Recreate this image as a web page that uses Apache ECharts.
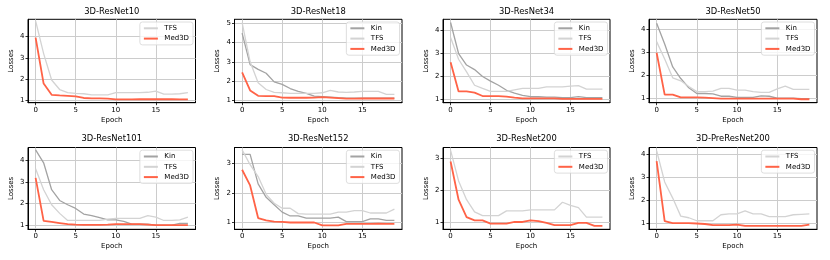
<!DOCTYPE html>
<html><head><meta charset="utf-8">
<script src="https://cdn.jsdelivr.net/npm/echarts@6/dist/echarts.min.js"></script>
<style>html,body{margin:0;padding:0;background:#fff}#c{width:830px;height:260px}</style>
</head><body><div id="c"></div>
<script>
const epochs = [0,1,2,3,4,5,6,7,8,9,10,11,12,13,14,15,16,17,18,19];
const xTicks = [0,5,10,15];
const titles = ['3D-ResNet10','3D-ResNet18','3D-ResNet34','3D-ResNet50','3D-ResNet101','3D-ResNet152','3D-ResNet200','3D-PreResNet200'];

const r10_tfs = [4.75,3.2,1.95,1.5,1.35,1.32,1.3,1.25,1.25,1.25,1.35,1.35,1.35,1.35,1.37,1.42,1.28,1.28,1.3,1.35];
const r10_med = [3.95,1.78,1.25,1.22,1.2,1.18,1.1,1.08,1.08,1.07,1.03,1.03,1.03,1.04,1.04,1.04,1.04,1.04,1.03,1.03];

const r18_kin = [4.5,2.85,2.6,2.4,1.95,1.82,1.6,1.45,1.35,1.2,1.18,1.15,1.12,1.1,1.1,1.1,1.1,1.1,1.1,1.1];
const r18_tfs = [5.05,3.0,1.9,1.55,1.4,1.38,1.35,1.35,1.35,1.35,1.38,1.5,1.42,1.4,1.42,1.45,1.45,1.45,1.3,1.3];
const r18_med = [2.45,1.5,1.22,1.2,1.2,1.13,1.12,1.12,1.12,1.13,1.15,1.13,1.1,1.07,1.07,1.08,1.08,1.08,1.08,1.08];

const r34_kin = [4.35,3.0,2.5,2.3,2.0,1.8,1.62,1.4,1.28,1.18,1.12,1.12,1.1,1.1,1.08,1.08,1.12,1.08,1.08,1.08];
const r34_tfs = [3.7,2.75,2.2,1.62,1.48,1.35,1.35,1.35,1.42,1.48,1.48,1.48,1.55,1.55,1.55,1.58,1.6,1.45,1.45,1.45];
const r34_med = [2.62,1.35,1.35,1.3,1.15,1.15,1.15,1.12,1.08,1.05,1.05,1.05,1.05,1.05,1.03,1.03,1.03,1.03,1.03,1.03];

const r50_kin = [4.25,3.35,2.35,1.85,1.45,1.2,1.2,1.18,1.08,1.08,1.03,1.03,1.03,1.1,1.08,1.0,1.0,1.0,0.98,0.98];
const r50_tfs = [3.45,2.7,1.88,1.75,1.5,1.28,1.28,1.3,1.42,1.42,1.35,1.35,1.28,1.25,1.25,1.4,1.52,1.38,1.38,1.38];
const r50_med = [2.97,1.15,1.15,1.03,1.03,1.03,1.02,1.0,0.98,0.98,0.98,0.98,0.98,0.98,0.98,0.98,0.98,0.98,0.95,0.95];

const r101_kin = [4.5,3.9,2.65,2.15,1.95,1.78,1.52,1.45,1.35,1.25,1.25,1.18,1.05,1.05,1.05,1.0,1.0,1.0,1.08,1.08];
const r101_tfs = [3.62,2.65,1.95,1.55,1.22,1.22,1.22,1.22,1.22,1.28,1.32,1.32,1.32,1.32,1.45,1.38,1.22,1.22,1.25,1.38];
const r101_med = [3.2,1.2,1.15,1.1,1.05,1.03,1.02,1.02,1.02,1.03,1.05,1.05,1.05,1.05,1.03,1.0,1.0,1.0,1.0,1.0];

const r152_kin = [3.3,3.3,2.3,1.85,1.6,1.35,1.22,1.22,1.15,1.15,1.15,1.15,1.18,1.03,1.03,1.03,1.12,1.12,1.07,1.07];
const r152_tfs = [3.45,2.95,2.55,1.95,1.65,1.48,1.48,1.3,1.28,1.28,1.28,1.28,1.35,1.35,1.4,1.4,1.32,1.32,1.32,1.45];
const r152_med = [2.78,2.25,1.15,1.07,1.03,1.02,1.0,1.0,1.0,1.0,0.9,0.9,0.9,0.95,0.95,0.95,0.95,0.96,0.95,0.95];

const r200_tfs = [3.25,2.29,1.7,1.32,1.2,1.2,1.2,1.35,1.35,1.35,1.38,1.38,1.38,1.38,1.62,1.52,1.45,1.15,1.15,1.15];
const r200_med = [2.9,1.7,1.15,1.05,1.05,0.95,0.95,0.95,1.0,1.0,1.05,1.03,0.97,0.9,0.9,0.9,0.97,0.97,0.88,0.88];

const pre200_tfs = [4.15,2.8,2.1,1.32,1.25,1.12,1.12,1.12,1.38,1.42,1.42,1.55,1.42,1.42,1.3,1.3,1.3,1.38,1.4,1.42];
const pre200_med = [3.7,1.1,1.02,1.02,1.02,1.0,0.98,0.93,0.93,0.93,0.95,0.9,0.9,0.9,0.9,0.9,0.9,0.9,0.9,0.95];

const yTicks = [[1,2,3,4],[1,2,3,4,5],[1,2,3,4],[1,2,3,4],[1,2,3,4],[1,2,3],[1,2,3],[1,2,3,4]];
const yMin = [0.877,0.86,0.86,0.80,0.81,0.77,0.77,0.75];
const yMax = [4.82,5.22,4.49,4.42,4.61,3.53,3.34,4.29];

const kinData = [null, r18_kin, r34_kin, r50_kin, r101_kin, r152_kin, null, null];
const tfsData = [r10_tfs, r18_tfs, r34_tfs, r50_tfs, r101_tfs, r152_tfs, r200_tfs, pre200_tfs];
const medData = [r10_med, r18_med, r34_med, r50_med, r101_med, r152_med, r200_med, pre200_med];

// layout
const W = 830;
const colLeft = [28, 234.5, 443, 649];
const colWidth = [167.5, 167.5, 167, 168];
const rowTop = [19.3, 147.5];
const rowHeight = [83.4, 81.8];
const titleTop = [7.4, 134.6];
const FONT = 'DejaVu Sans';
const COLORS = {Kin: '#a3a3a3', TFS: '#d3d3d3', Med3D: '#ff6347'};
const WIDTHS = {Kin: 1.3, TFS: 1.3, Med3D: 1.8};

const grids = [], xAxes = [], yAxes = [], series = [], titleOpts = [], legends = [];
function pts(vals){ return epochs.map((e, i) => [e, vals[i]]); }

for (let i = 0; i < 8; i++) {
  const r = Math.floor(i / 4), c = i % 4;
  const left = colLeft[c], width = colWidth[c], top = rowTop[r], height = rowHeight[r];
  grids.push({left, top, width, height, show: true, borderColor: '#000', borderWidth: 1, backgroundColor: 'transparent', containLabel: false});
  xAxes.push({
    type: 'value', gridIndex: i, min: -0.95, max: 19.95,
    name: 'Epoch', nameLocation: 'middle', nameGap: 13.5,
    nameTextStyle: {fontFamily: FONT, fontSize: 7, color: '#000'},
    axisLine: {show: true, onZero: false, lineStyle: {color: '#000', width: 1}},
    axisTick: {show: true, length: 2.5, customValues: xTicks, lineStyle: {color: '#000', width: 0.8}},
    axisLabel: {customValues: xTicks, margin: 3.5, fontFamily: FONT, fontSize: 7, color: '#000'},
    splitLine: {show: true, lineStyle: {color: '#cccccc', width: 1}}
  });
  yAxes.push({
    type: 'value', gridIndex: i, min: yMin[i], max: yMax[i],
    name: 'Losses', nameLocation: 'middle', nameGap: 13.5,
    nameTextStyle: {fontFamily: FONT, fontSize: 7, color: '#000'},
    axisLine: {show: true, onZero: false, lineStyle: {color: '#000', width: 1}},
    axisTick: {show: true, length: 2.5, customValues: yTicks[i], lineStyle: {color: '#000', width: 0.8}},
    axisLabel: {customValues: yTicks[i], margin: 3.5, fontFamily: FONT, fontSize: 7, color: '#000'},
    splitLine: {show: true, lineStyle: {color: '#cccccc', width: 1}}
  });
  titleOpts.push({
    text: titles[i], left: left + width / 2, top: titleTop[r], textAlign: 'center', padding: 0,
    textStyle: {fontFamily: FONT, fontSize: 8.4, fontWeight: 'normal', color: '#000'}
  });
  const names = [];
  const add = (name, vals) => {
    if (!vals) return;
    names.push(name);
    series.push({
      type: 'line', name, xAxisIndex: i, yAxisIndex: i, data: pts(vals),
      symbol: 'none', showSymbol: false, silent: true,
      lineStyle: {color: COLORS[name], width: WIDTHS[name]},
      itemStyle: {color: COLORS[name]}
    });
  };
  add('Kin', kinData[i]);
  add('TFS', tfsData[i]);
  add('Med3D', medData[i]);
  legends.push({
    data: names, orient: 'vertical', right: W - (left + width) + 2.5, top: top + 2.7,
    itemWidth: 14, itemHeight: 8, itemGap: 3.3, padding: [2.8, 4, 2.8, 3],
    borderColor: '#d5d5d5', borderWidth: 0.8, borderRadius: 2.5, backgroundColor: 'rgba(255,255,255,0.8)',
    selectedMode: false,
    itemStyle: {opacity: 0},
    lineStyle: {inactiveWidth: 1},
    textStyle: {fontFamily: FONT, fontSize: 7, color: '#000', padding: [0, 0, 0, 1.5]}
  });
}

const chart = echarts.init(document.getElementById('c'), null, {renderer: 'canvas'});
chart.setOption({
  animation: false,
  backgroundColor: '#fff',
  title: titleOpts,
  legend: legends,
  grid: grids,
  xAxis: xAxes,
  yAxis: yAxes,
  series
});
</script></body></html>
